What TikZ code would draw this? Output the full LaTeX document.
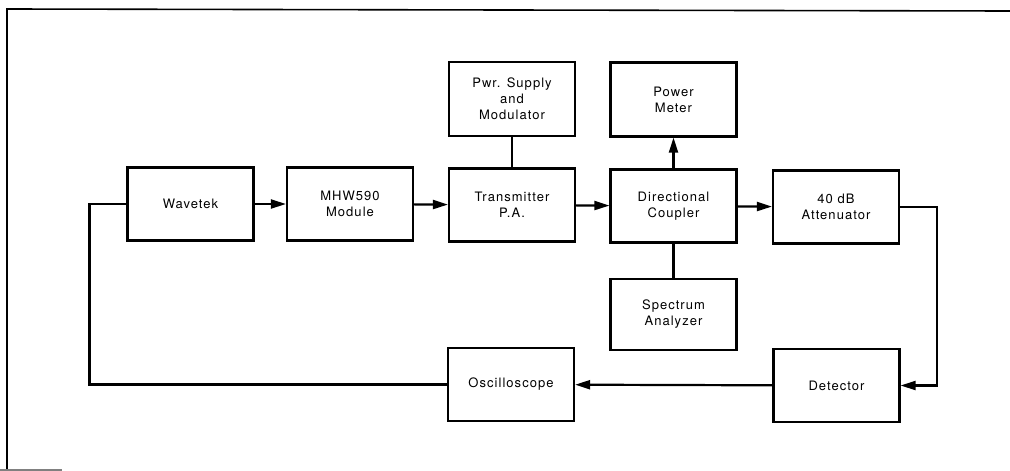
\documentclass[tikz,border=0pt]{standalone}
\usepackage{fontspec}
\setmainfont{TeX Gyre Heros}[LetterSpace=8]
\usetikzlibrary{arrows.meta}
\begin{document}
\begin{tikzpicture}[x=1pt,y=-1pt,
  blk/.style={draw,line width=2.2pt,minimum width=126pt,minimum height=73pt,inner sep=0pt,align=center,
    font=\fontsize{13}{16}\selectfont},
  conn/.style={line width=2.2pt},
  arr/.style={conn,-{Triangle[length=15pt,width=9pt]}},
  frame/.style={line width=1.6pt}]
\useasboundingbox (0,0) rectangle (1010,471);
\draw[frame] (1010,11) -- (7,9) -- (7,470);
\draw[frame,gray] (0,470) -- (62,470);
\node[blk] (wave) at (190.5,204) {Wavetek};
\node[blk] (mhw) at (350,204) {MHW590\\Module};
\node[blk] (tx) at (512,205) {Transmitter\\P.A.};
\node[blk] (dc) at (673.5,206) {Directional\\Coupler};
\node[blk] (att) at (836,207) {40 dB\\Attenuator};
\node[blk,minimum height=74pt] (pwr) at (512,99) {Pwr. Supply\\and\\Modulator};
\node[blk,minimum height=74pt] (pm) at (673.5,99.5) {Power\\Meter};
\node[blk,minimum height=71pt] (sa) at (673.5,314.5) {Spectrum\\Analyzer};
\node[blk] (osc) at (511,384.5) {Oscilloscope};
\node[blk] (det) at (836.5,385.5) {Detector};
\draw[arr] (wave) -- (mhw);
\draw[arr] (mhw) -- (tx);
\draw[arr] (tx) -- (dc);
\draw[arr] (dc) -- (att);
\draw[arr] (dc) -- (pm);
\draw[conn] (pwr) -- (tx);
\draw[conn] (dc) -- (sa);
\draw[arr] (att.east) -- ++(37,0) |- (det.east);
\draw[arr] (det) -- (osc);
\draw[conn] (wave.west) -- ++(-37,0) |- (osc.west);
\end{tikzpicture}
\end{document}
